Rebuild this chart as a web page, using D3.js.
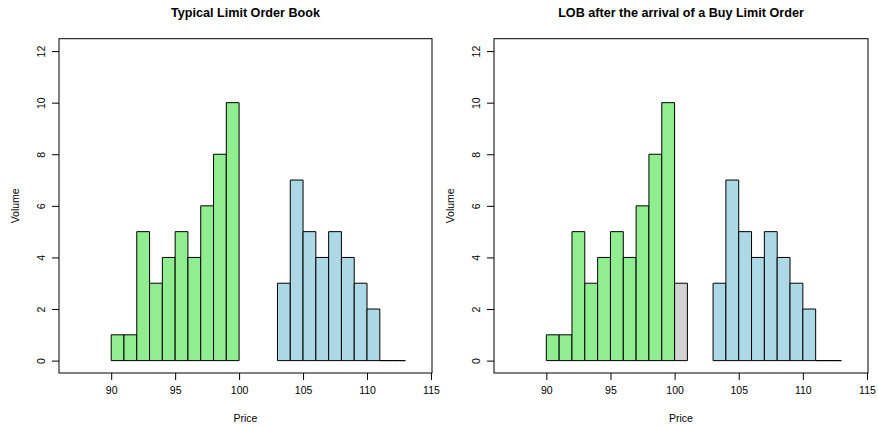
<!DOCTYPE html>
<html>
<head>
<meta charset="utf-8">
<script src="https://cdnjs.cloudflare.com/ajax/libs/d3/7.8.5/d3.min.js"></script>
<style>
  html, body { margin: 0; padding: 0; background: #fff; }
  svg { display: block; font-family: "Liberation Sans", Arial, Helvetica, sans-serif; }
</style>
</head>
<body>
<svg id="chart" width="878" height="427"></svg>
<script>
// Order book: lower price edge of each one-tick bin and the resting volume
const bidPrices  = [90, 91, 92, 93, 94, 95, 96, 97, 98, 99];
const bidVolumes = [1, 1, 5, 3, 4, 5, 4, 6, 8, 10];
const askPrices  = [103, 104, 105, 106, 107, 108, 109, 110, 111, 112];
const askVolumes = [3, 7, 5, 4, 5, 4, 3, 2, 0, 0];
// Incoming buy limit order placed inside the spread
const newOrderPrices  = [100];
const newOrderVolumes = [3];

const panelTitles = ["Typical Limit Order Book", "LOB after the arrival of a Buy Limit Order"];
const xTicks = [90, 95, 100, 105, 110, 115];
const yTicks = [0, 2, 4, 6, 8, 10, 12];
const xLabel = "Price";
const yLabel = "Volume";

const colors = { bid: "#90EE90", ask: "#ADD8E6", order: "#D3D3D3" };

const svg = d3.select("#chart");
const plotTop = 38.7, plotBottom = 373;
const panels = [
  { left: 59, right: 432, withOrder: false },
  { left: 494, right: 868, withOrder: true }
];

panels.forEach((p, i) => {
  const x = d3.scaleLinear().domain([85.92, 115.08]).range([p.left, p.right]);
  const y = d3.scaleLinear().domain([-0.48, 12.48]).range([plotBottom, plotTop]);
  const g = svg.append("g");

  const series = [
    { prices: bidPrices, vols: bidVolumes, fill: colors.bid },
    { prices: askPrices, vols: askVolumes, fill: colors.ask }
  ];
  if (p.withOrder) series.push({ prices: newOrderPrices, vols: newOrderVolumes, fill: colors.order });

  series.forEach(s => {
    g.append("g").selectAll("path")
      .data(s.prices.map((pr, k) => ({ pr, v: s.vols[k] })))
      .join("path")
      .attr("d", d => {
        const x0 = x(d.pr), x1 = x(d.pr + 1), y0 = y(0), y1 = y(d.v);
        return `M${x0},${y0}V${y1}H${x1}V${y0}Z`;
      })
      .attr("fill", s.fill)
      .attr("stroke", "#000")
      .attr("stroke-width", 1);
  });

  // plot frame
  g.append("rect")
    .attr("x", p.left).attr("y", plotTop)
    .attr("width", p.right - p.left).attr("height", plotBottom - plotTop)
    .attr("fill", "none").attr("stroke", "#000").attr("stroke-width", 1);

  // x axis
  const xAxis = d3.axisBottom(x).tickValues(xTicks).tickSize(7).tickPadding(7).tickFormat(d3.format("d"));
  const gx = g.append("g").attr("transform", `translate(0,${plotBottom})`).call(xAxis);
  gx.select(".domain").remove();
  gx.selectAll("line").attr("stroke", "#000");
  gx.selectAll("text").attr("font-size", 10.5).attr("fill", "#000")
    .attr("font-family", "Liberation Sans, Arial, sans-serif");

  // y axis, labels parallel to the axis
  const yAxis = d3.axisLeft(y).tickValues(yTicks).tickSize(7).tickFormat(d3.format("d"));
  const gy = g.append("g").attr("transform", `translate(${p.left},0)`).call(yAxis);
  gy.select(".domain").remove();
  gy.selectAll("line").attr("stroke", "#000");
  gy.selectAll("text")
    .attr("font-size", 10.5).attr("fill", "#000")
    .attr("font-family", "Liberation Sans, Arial, sans-serif")
    .attr("x", null).attr("dy", null)
    .attr("text-anchor", "middle")
    .attr("transform", "translate(-18,0) rotate(-90)")
    .attr("dy", "0.35em");

  // titles
  const cx = (p.left + p.right) / 2;
  g.append("text").attr("x", cx).attr("y", 17.3)
    .attr("text-anchor", "middle").attr("font-weight", "bold").attr("font-size", 12.6)
    .text(panelTitles[i]);
  g.append("text").attr("x", cx).attr("y", 422)
    .attr("text-anchor", "middle").attr("font-size", 10.5)
    .text(xLabel);
  g.append("text")
    .attr("transform", `translate(${p.left - 44},${(plotTop + plotBottom) / 2}) rotate(-90)`)
    .attr("text-anchor", "middle").attr("dy", "0.35em").attr("font-size", 10.5)
    .text(yLabel);
});
</script>
</body>
</html>
